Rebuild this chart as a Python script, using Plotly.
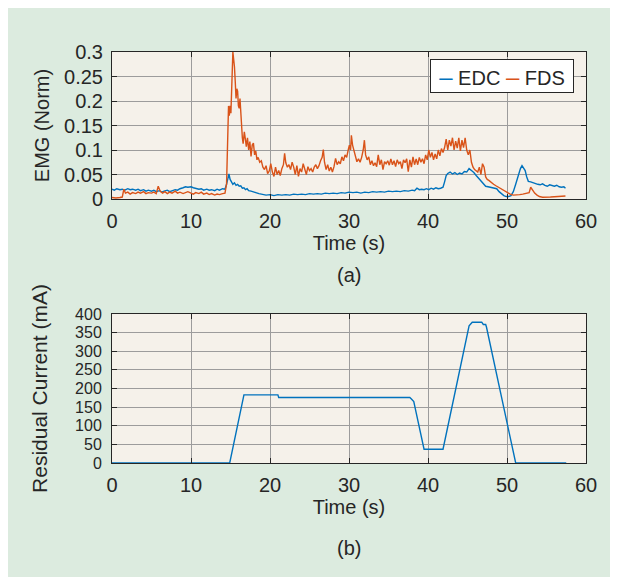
import plotly.graph_objects as go

# ---------------- data ----------------
fds_t = [0.0, 0.5, 1.0, 1.3, 1.5, 1.7, 2.0, 2.3, 2.6, 3.0, 3.3, 3.6, 4.0, 4.3, 4.6, 5.0, 5.3, 5.6, 5.85, 6.1,
         6.4, 6.7, 7.0, 7.3, 7.6, 8.0, 8.3, 8.6, 9.0, 9.3, 9.6, 10.0, 10.3, 10.6, 11.0, 11.3, 11.6, 12.0, 12.3, 12.6,
         13.0, 13.3, 13.6, 14.0, 14.3, 14.5, 14.65, 14.75, 14.85, 14.95, 15.05, 15.2, 15.3, 15.4, 15.5, 15.6, 15.7, 15.8, 15.9, 16.0,
         16.1, 16.2, 16.3, 16.4, 16.5, 16.6, 16.75, 16.9, 17.0, 17.15, 17.3, 17.45, 17.6, 17.75, 17.9, 18.05, 18.2, 18.35, 18.5, 18.7,
         18.9, 19.1, 19.3, 19.5, 19.7, 19.9, 20.1, 20.3, 20.5, 20.7, 20.9, 21.1, 21.3, 21.5, 21.7, 21.85, 22.0, 22.2, 22.4, 22.6,
         22.8, 23.0, 23.2, 23.4, 23.6, 23.8, 24.0, 24.2, 24.4, 24.6, 24.8, 25.0, 25.2, 25.4, 25.6, 25.8, 26.0, 26.2, 26.4, 26.6,
         26.75, 26.9, 27.1, 27.3, 27.5, 27.7, 27.9, 28.1, 28.3, 28.5, 28.7, 28.9, 29.1, 29.3, 29.5, 29.7, 29.9, 30.05, 30.2, 30.3,
         30.45, 30.6, 30.8, 31.0, 31.2, 31.4, 31.6, 31.8, 31.95, 32.1, 32.3, 32.5, 32.7, 32.9, 33.1, 33.3, 33.5, 33.7, 33.9, 34.1,
         34.3, 34.5, 34.7, 34.9, 35.1, 35.3, 35.5, 35.7, 35.9, 36.1, 36.3, 36.5, 36.7, 36.9, 37.1, 37.3, 37.5, 37.7, 37.9, 38.1,
         38.3, 38.5, 38.7, 38.9, 39.1, 39.3, 39.5, 39.7, 39.9, 40.1, 40.3, 40.5, 40.7, 40.9, 41.1, 41.3, 41.5, 41.7, 41.9, 42.1,
         42.3, 42.5, 42.7, 42.9, 43.1, 43.3, 43.5, 43.7, 43.9, 44.1, 44.3, 44.5, 44.7, 44.9, 45.1, 45.3, 45.5, 45.7, 45.9, 46.1,
         46.3, 46.5, 46.7, 46.9, 47.1, 47.3, 47.5, 47.7, 48.0, 48.3, 48.6, 48.9, 49.2, 49.5, 49.8, 50.1, 50.4, 50.8, 51.2, 51.6,
         52.0, 52.4, 52.8, 53.0, 53.3, 53.5, 53.8, 54.1, 54.5, 55.0, 55.5, 56.0, 56.5, 57.0, 57.4]
fds_v = [0.003, 0.002, 0.003, 0.004, 0.02, 0.012, 0.014, 0.01, 0.013, 0.011, 0.014, 0.012, 0.015, 0.011, 0.013, 0.012, 0.014, 0.011, 0.026, 0.016,
         0.012, 0.015, 0.011, 0.014, 0.012, 0.016, 0.012, 0.014, 0.011, 0.013, 0.015, 0.012, 0.01, 0.013, 0.011, 0.014, 0.01, 0.012, 0.009, 0.011,
         0.008, 0.01, 0.009, 0.011, 0.012, 0.03, 0.12, 0.19, 0.17, 0.19, 0.175, 0.24, 0.3, 0.285, 0.27, 0.24, 0.205, 0.225, 0.22, 0.19,
         0.185, 0.205, 0.17, 0.13, 0.125, 0.113, 0.137, 0.12, 0.107, 0.125, 0.1, 0.117, 0.087, 0.11, 0.114, 0.09, 0.098, 0.08, 0.085, 0.075,
         0.078, 0.065, 0.06, 0.068, 0.052, 0.057, 0.072, 0.055, 0.046, 0.065, 0.05, 0.058, 0.048, 0.062, 0.07, 0.093, 0.074, 0.065, 0.07, 0.06,
         0.075, 0.065, 0.05, 0.068, 0.046, 0.062, 0.055, 0.072, 0.06, 0.05, 0.066, 0.058, 0.062, 0.055, 0.065, 0.07, 0.062, 0.068, 0.078, 0.085,
         0.101, 0.075, 0.06, 0.07, 0.057, 0.065, 0.055, 0.066, 0.083, 0.07, 0.076, 0.072, 0.086, 0.078, 0.09, 0.085, 0.1, 0.11, 0.1, 0.13,
         0.11, 0.1, 0.083, 0.076, 0.082, 0.075, 0.085, 0.1, 0.12, 0.09, 0.08, 0.086, 0.07, 0.078, 0.068, 0.074, 0.066, 0.09, 0.07, 0.08,
         0.06, 0.076, 0.072, 0.078, 0.069, 0.082, 0.07, 0.078, 0.066, 0.08, 0.072, 0.076, 0.062, 0.08, 0.074, 0.082, 0.056, 0.08, 0.065, 0.086,
         0.07, 0.082, 0.07, 0.085, 0.075, 0.082, 0.072, 0.09, 0.08, 0.1, 0.085, 0.095, 0.08, 0.092, 0.082, 0.1, 0.088, 0.103, 0.095, 0.105,
         0.122, 0.1, 0.12, 0.108, 0.125, 0.1, 0.118, 0.104, 0.125, 0.098, 0.12, 0.105, 0.125, 0.1, 0.09, 0.1, 0.075, 0.065, 0.06, 0.058,
         0.055, 0.065, 0.05, 0.072, 0.065, 0.045, 0.04, 0.038, 0.033, 0.03, 0.027, 0.024, 0.021, 0.018, 0.015, 0.012, 0.01, 0.008, 0.008, 0.009,
         0.01, 0.011, 0.013, 0.024, 0.015, 0.012, 0.008, 0.005, 0.0035, 0.003, 0.004, 0.0045, 0.005, 0.006, 0.006]

edc_t = [0.0, 0.3, 0.6, 1.0, 1.3, 1.6, 2.0, 2.3, 2.6, 3.0, 3.3, 3.6, 4.0, 4.3, 4.6, 5.0, 5.3, 5.6, 6.0, 6.3,
         6.6, 7.0, 7.3, 7.6, 8.0, 8.3, 8.6, 9.0, 9.3, 9.6, 10.0, 10.3, 10.6, 11.0, 11.3, 11.6, 12.0, 12.3, 12.6, 13.0,
         13.3, 13.6, 14.0, 14.3, 14.5, 14.65, 14.8, 14.95, 15.1, 15.3, 15.5, 15.7, 15.9, 16.1, 16.3, 16.5, 16.7, 16.9, 17.1, 17.3,
         17.6, 17.9, 18.2, 18.6, 19.0, 19.5, 20.0, 20.5, 21.0, 21.5, 22.0, 22.5, 23.0, 23.5, 24.0, 24.5, 25.0, 25.5, 26.0, 26.5,
         27.0, 27.5, 28.0, 28.5, 29.0, 29.5, 30.0, 30.5, 31.0, 31.5, 32.0, 32.5, 33.0, 33.5, 34.0, 34.5, 35.0, 35.5, 36.0, 36.5,
         37.0, 37.5, 38.0, 38.3, 38.6, 38.9, 39.2, 39.5, 39.8, 40.1, 40.4, 40.7, 41.0, 41.3, 41.6, 41.9, 42.1, 42.3, 42.5, 42.8,
         43.1, 43.4, 43.7, 44.0, 44.3, 44.6, 44.9, 45.2, 45.5, 45.8, 46.1, 46.4, 46.7, 47.0, 47.3, 47.6, 48.0, 48.4, 48.7, 49.0,
         49.3, 49.6, 49.9, 50.2, 50.5, 50.8, 51.1, 51.4, 51.7, 51.9, 52.1, 52.3, 52.5, 52.7, 53.0, 53.3, 53.6, 53.9, 54.2, 54.5,
         54.8, 55.1, 55.4, 55.7, 56.0, 56.3, 56.6, 56.9, 57.2, 57.4]
edc_v = [0.02, 0.018, 0.021, 0.019, 0.02, 0.018, 0.021, 0.019, 0.02, 0.018, 0.02, 0.017, 0.019, 0.016, 0.018, 0.016, 0.018, 0.015, 0.017, 0.014,
         0.016, 0.018, 0.015, 0.017, 0.019, 0.018, 0.021, 0.023, 0.025, 0.024, 0.025, 0.023, 0.022, 0.02, 0.021, 0.018, 0.02, 0.018, 0.019, 0.017,
         0.02, 0.018, 0.021, 0.02, 0.03, 0.044, 0.051, 0.04, 0.035, 0.03, 0.033, 0.028, 0.03, 0.026, 0.027, 0.022, 0.023, 0.019, 0.021, 0.017,
         0.016, 0.014, 0.013, 0.011, 0.01, 0.008, 0.009, 0.007, 0.009, 0.008, 0.009, 0.008, 0.01, 0.009, 0.01, 0.009, 0.011, 0.01, 0.011, 0.01,
         0.012, 0.011, 0.012, 0.011, 0.013, 0.012, 0.014, 0.013, 0.014, 0.012, 0.014, 0.013, 0.015, 0.014, 0.015, 0.014, 0.016, 0.015, 0.016, 0.015,
         0.017, 0.016, 0.018, 0.017, 0.022, 0.019, 0.02, 0.019, 0.021, 0.019, 0.022, 0.02, 0.023, 0.021, 0.022, 0.024, 0.035, 0.048, 0.052, 0.055,
         0.051, 0.054, 0.05, 0.053, 0.051, 0.056, 0.055, 0.062, 0.058, 0.054, 0.048, 0.042, 0.037, 0.031, 0.026, 0.025, 0.024, 0.023, 0.021, 0.015,
         0.01, 0.007, 0.005, 0.005, 0.007, 0.015, 0.03, 0.048, 0.062, 0.068, 0.064, 0.058, 0.045, 0.036, 0.035, 0.033, 0.032, 0.03, 0.029, 0.031,
         0.028, 0.026, 0.029, 0.027, 0.026, 0.028, 0.025, 0.024, 0.025, 0.022]

cur_t = [0.0, 14.9, 16.7, 21.0, 21.1, 37.7, 37.9, 38.2, 38.5, 39.3, 39.5, 41.9, 45.2, 45.6, 46.8, 47.0, 47.3, 47.4, 51.1, 57.5]
cur_v = [0, 0, 183, 183, 176, 176, 172, 165, 135, 57, 37, 37, 368, 378, 378, 372, 372, 365, 0, 0]

x_ticks = [0, 10, 20, 30, 40, 50, 60]
emg_ticks = [0, 0.05, 0.1, 0.15, 0.2, 0.25, 0.3]
cur_ticks = [0, 50, 100, 150, 200, 250, 300, 350, 400]

# ---------------- styling ----------------
W, H = 618, 577
OFF = 8  # page body margin
GREEN = "#dcebdf"
PLOTBG = "#f5f1ea"
TXT = "#262626"
GRID = "#9c9c9c"
BLUE = "#0072BD"
ORANGE = "#D95319"
FONT = "Liberation Sans, Arial, Helvetica, sans-serif"

px_x0, px_x1 = 112, 586
a_top, a_bot = 52, 199
b_top, b_bot = 314, 463


def fx(p):
    return (p - OFF) / W


def fy(p):
    return 1 - (p - OFF) / H


def font(size):
    return dict(family=FONT, size=size, color=TXT)


fig = go.Figure()
fig.add_trace(go.Scatter(x=edc_t, y=edc_v, mode="lines", name="EDC", showlegend=False,
                         line=dict(color=BLUE, width=1.4), xaxis="x", yaxis="y"))
fig.add_trace(go.Scatter(x=fds_t, y=fds_v, mode="lines", name="FDS", showlegend=False,
                         line=dict(color=ORANGE, width=1.4), xaxis="x", yaxis="y"))
fig.add_trace(go.Scatter(x=cur_t, y=cur_v, mode="lines", name="Residual Current", showlegend=False,
                         line=dict(color=BLUE, width=1.4), xaxis="x2", yaxis="y2"))

common = dict(showgrid=True, gridcolor=GRID, gridwidth=1, showline=True, linecolor=TXT, linewidth=1,
              mirror="ticks", ticks="inside", ticklen=5, tickcolor=TXT, zeroline=False, automargin=False)

legend_text = ('<span style="color:%s;font-size:24px">–</span> EDC '
               '<span style="color:%s;font-size:24px">–</span> FDS') % (BLUE, ORANGE)

fig.update_layout(
    width=W, height=H,
    margin=dict(l=0, r=0, t=0, b=0, pad=0),
    paper_bgcolor=GREEN, plot_bgcolor=PLOTBG,
    font=dict(family=FONT, color=TXT),
    showlegend=False,
    xaxis=dict(domain=[fx(px_x0), fx(px_x1)], anchor="y", range=[0, 60], tickvals=x_ticks,
               tickfont=font(20), ticklabelstandoff=4,
               title=dict(text="Time (s)", standoff=2, font=font(20)), **common),
    yaxis=dict(domain=[fy(a_bot), fy(a_top)], anchor="x", range=[0, 0.3], tickvals=emg_ticks,
               tickfont=font(20), ticklabelstandoff=4,
               title=dict(text="EMG (Norm)", standoff=9, font=font(20)), **common),
    xaxis2=dict(domain=[fx(px_x0), fx(px_x1)], anchor="y2", range=[0, 60], tickvals=x_ticks,
                tickfont=font(20), ticklabelstandoff=4,
                title=dict(text="Time (s)", standoff=2, font=font(20)), **common),
    yaxis2=dict(domain=[fy(b_bot), fy(b_top)], anchor="x2", range=[0, 400], tickvals=cur_ticks,
                tickfont=font(16), ticklabelstandoff=6,
                title=dict(text="Residual Current (mA)", standoff=21, font=font(21)), **common),
    annotations=[
        dict(text=legend_text, xref="paper", yref="paper", x=fx(502), y=fy(75.5),
             xanchor="center", yanchor="middle", showarrow=False, width=140, height=30,
             bgcolor="white", bordercolor=TXT, borderwidth=1, borderpad=1, font=font(20)),
        dict(text="(a)", xref="paper", yref="paper", x=fx(349), y=fy(275), showarrow=False,
             xanchor="center", yanchor="middle", font=font(20)),
        dict(text="(b)", xref="paper", yref="paper", x=fx(349), y=fy(548), showarrow=False,
             xanchor="center", yanchor="middle", font=font(20)),
    ],
)

fig.write_html("out.html")
